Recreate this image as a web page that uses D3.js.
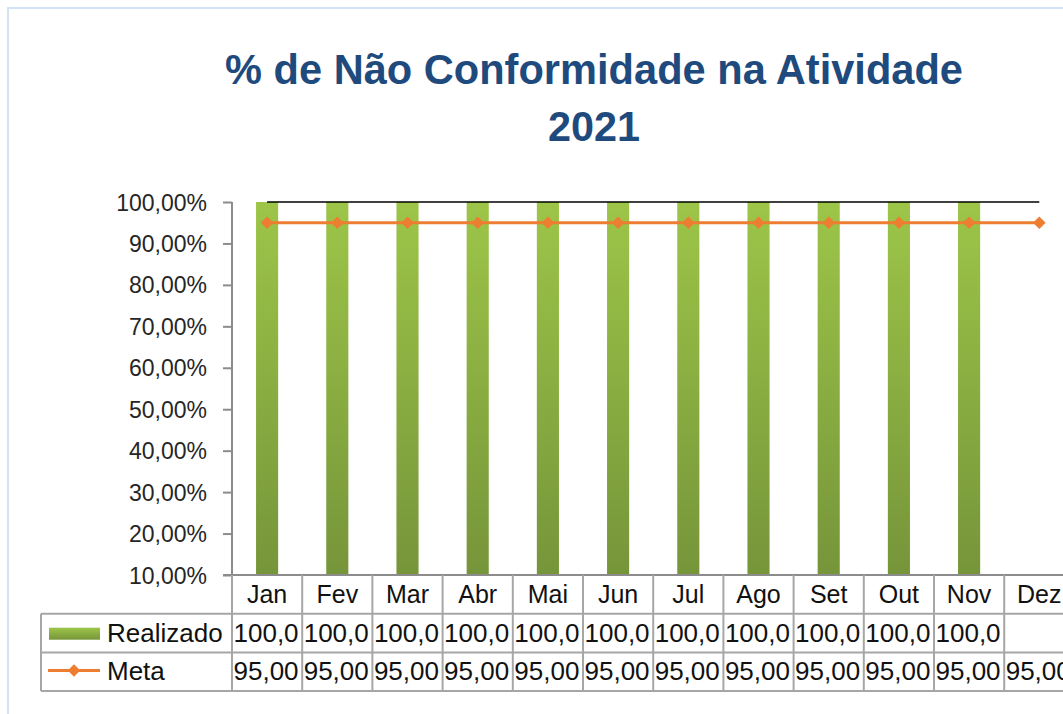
<!DOCTYPE html>
<head>
<meta charset="utf-8">
<script src="https://d3js.org/d3.v7.min.js"></script>
<style>
  body { margin: 0; background: #fff; }
  text { font-family: "Liberation Sans", Arial, sans-serif; }
</style>
</head>
<body>
<div id="datavis"></div>

<script type="text/javascript">
    // data
    var months = ["Jan", "Fev", "Mar", "Abr", "Mai", "Jun", "Jul", "Ago", "Set", "Out", "Nov", "Dez"];
    var realizado = [1, 1, 1, 1, 1, 1, 1, 1, 1, 1, 1, null];
    var meta = [0.95, 0.95, 0.95, 0.95, 0.95, 0.95, 0.95, 0.95, 0.95, 0.95, 0.95, 0.95];
    var limite = [1, 1, 1, 1, 1, 1, 1, 1, 1, 1, 1, 1];
    var yTicks = [0.1, 0.2, 0.3, 0.4, 0.5, 0.6, 0.7, 0.8, 0.9, 1.0];

    var W = 1063, H = 714;
    var plotLeft = 232, plotTop = 202, plotBottom = 575, step = 70.2;
    var rowH = 38.7;

    var svg = d3.select("#datavis").append("svg")
        .attr("width", W).attr("height", H);

    var defs = svg.append("defs");
    var grad = defs.append("linearGradient").attr("id", "barGrad")
        .attr("x1", 0).attr("y1", 0).attr("x2", 0).attr("y2", 1);
    grad.append("stop").attr("offset", "0%").attr("stop-color", "#9dc548");
    grad.append("stop").attr("offset", "100%").attr("stop-color", "#76953a");

    // outer chart frame
    svg.append("rect")
        .attr("x", 8).attr("y", 8).attr("width", W + 20).attr("height", H + 20)
        .attr("fill", "none").attr("stroke", "#d3e2f4").attr("stroke-width", 2);

    // title
    var title = svg.append("g").attr("fill", "#1f4a7d")
        .style("font-family", "Lato, 'Open Sans', sans-serif")
        .style("font-weight", "bold").style("font-size", "43px")
        .attr("text-anchor", "middle");
    title.append("text").attr("x", 594).attr("y", 84)
        .attr("textLength", 738).attr("lengthAdjust", "spacingAndGlyphs")
        .text("% de Não Conformidade na Atividade");
    title.append("text").attr("x", 594).attr("y", 141)
        .attr("textLength", 92).attr("lengthAdjust", "spacingAndGlyphs")
        .text("2021");

    // scales
    var x = d3.scaleBand().domain(months)
        .range([plotLeft, plotLeft + step * months.length]).paddingInner(0.685).paddingOuter(0.3425);
    var xc = function(m) { return x(m) + x.bandwidth() / 2; };
    var y = d3.scaleLinear().domain([0.1, 1.0]).range([plotBottom, plotTop]);

    var fmt = function(v) { return d3.format(".2f")(v * 100).replace(".", ",") + "%"; };

    // y axis
    var yAxis = svg.append("g")
        .attr("transform", "translate(" + plotLeft + ",0)")
        .call(d3.axisLeft(y).tickValues(yTicks).tickFormat(fmt).tickSize(9).tickPadding(16));
    yAxis.select(".domain").attr("stroke", "#8c8c8c").attr("stroke-width", 2)
        .attr("d", "M0," + plotTop + "V" + plotBottom);
    yAxis.selectAll(".tick line").attr("stroke", "#8c8c8c").attr("stroke-width", 2);
    yAxis.selectAll(".tick text").attr("fill", "#262626")
        .style("font-size", "23px").attr("dy", "0.35em");

    // bars
    svg.append("g").selectAll("rect")
        .data(months.map(function(m, i) { return { m: m, v: realizado[i] }; })
              .filter(function(d) { return d.v != null; }))
        .enter().append("rect")
        .attr("x", function(d) { return x(d.m); })
        .attr("width", x.bandwidth())
        .attr("y", function(d) { return y(d.v); })
        .attr("height", function(d) { return y(0.1) - y(d.v); })
        .attr("fill", "url(#barGrad)");

    // black 100% line
    var lineGen = d3.line().x(function(d) { return xc(d.m); }).y(function(d) { return y(d.v); });
    svg.append("path")
        .datum(months.map(function(m, i) { return { m: m, v: limite[i] }; }))
        .attr("fill", "none").attr("stroke", "#000").attr("stroke-width", 1.5)
        .attr("d", lineGen);

    // meta line
    var metaData = months.map(function(m, i) { return { m: m, v: meta[i] }; });
    svg.append("path").datum(metaData)
        .attr("fill", "none").attr("stroke", "#ed7d31").attr("stroke-width", 3)
        .attr("d", lineGen);
    var diamond = d3.symbol().type(d3.symbolDiamond2).size(100);
    svg.append("g").selectAll("path").data(metaData).enter().append("path")
        .attr("transform", function(d) { return "translate(" + xc(d.m) + "," + y(d.v) + ")"; })
        .attr("d", diamond).attr("fill", "#ed7d31");

    // data table
    var gridColor = "#a6a6a6";
    var tRight = plotLeft + step * months.length;
    var rows = [plotBottom, plotBottom + rowH, plotBottom + 2 * rowH, plotBottom + 3 * rowH];
    var table = svg.append("g").attr("stroke", gridColor).attr("stroke-width", 2);
    // horizontal axis line (category row top)
    table.append("line").attr("x1", plotLeft - 9).attr("x2", tRight).attr("y1", plotBottom).attr("y2", plotBottom)
        .attr("stroke", "#8c8c8c");
    [1, 2, 3].forEach(function(r) {
        table.append("line").attr("x1", 41).attr("x2", tRight).attr("y1", rows[r]).attr("y2", rows[r]);
    });
    table.append("line").attr("x1", 41).attr("x2", 41).attr("y1", rows[1]).attr("y2", rows[3]);
    d3.range(months.length + 1).forEach(function(i) {
        table.append("line").attr("x1", plotLeft + i * step).attr("x2", plotLeft + i * step)
            .attr("y1", plotBottom).attr("y2", rows[3]);
    });

    // category labels
    svg.append("g").selectAll("text").data(months).enter().append("text")
        .attr("x", function(m, i) { return plotLeft + (i + 0.5) * step; })
        .attr("y", plotBottom + 28).attr("text-anchor", "middle")
        .style("font-size", "25px").attr("fill", "#111")
        .text(function(m) { return m; });

    // cell values, cut to what fits in a cell like the spreadsheet shows
    function valueRow(vals, r) {
        var g = svg.append("g");
        vals.forEach(function(v, i) {
            if (v == null) return;
            g.append("text")
                .attr("x", plotLeft + i * step + 1.5).attr("y", rows[r] + 28)
                .style("font-size", "26px").attr("fill", "#111")
                .text(fmt(v).slice(0, 5));
        });
    }
    valueRow(realizado, 1);
    valueRow(meta, 2);

    // legend keys inside table
    svg.append("rect").attr("x", 49).attr("y", rows[1] + 14).attr("width", 51).attr("height", 12)
        .attr("fill", "url(#barGrad)");
    svg.append("text").attr("x", 107).attr("y", rows[1] + 28)
        .style("font-size", "26px").attr("fill", "#111").text("Realizado");
    svg.append("line").attr("x1", 48).attr("x2", 100)
        .attr("y1", rows[2] + 18).attr("y2", rows[2] + 18)
        .attr("stroke", "#ed7d31").attr("stroke-width", 3);
    svg.append("path").attr("transform", "translate(74," + (rows[2] + 18) + ")")
        .attr("d", diamond).attr("fill", "#ed7d31");
    svg.append("text").attr("x", 107).attr("y", rows[2] + 28)
        .style("font-size", "26px").attr("fill", "#111").text("Meta");
</script>
</body>
